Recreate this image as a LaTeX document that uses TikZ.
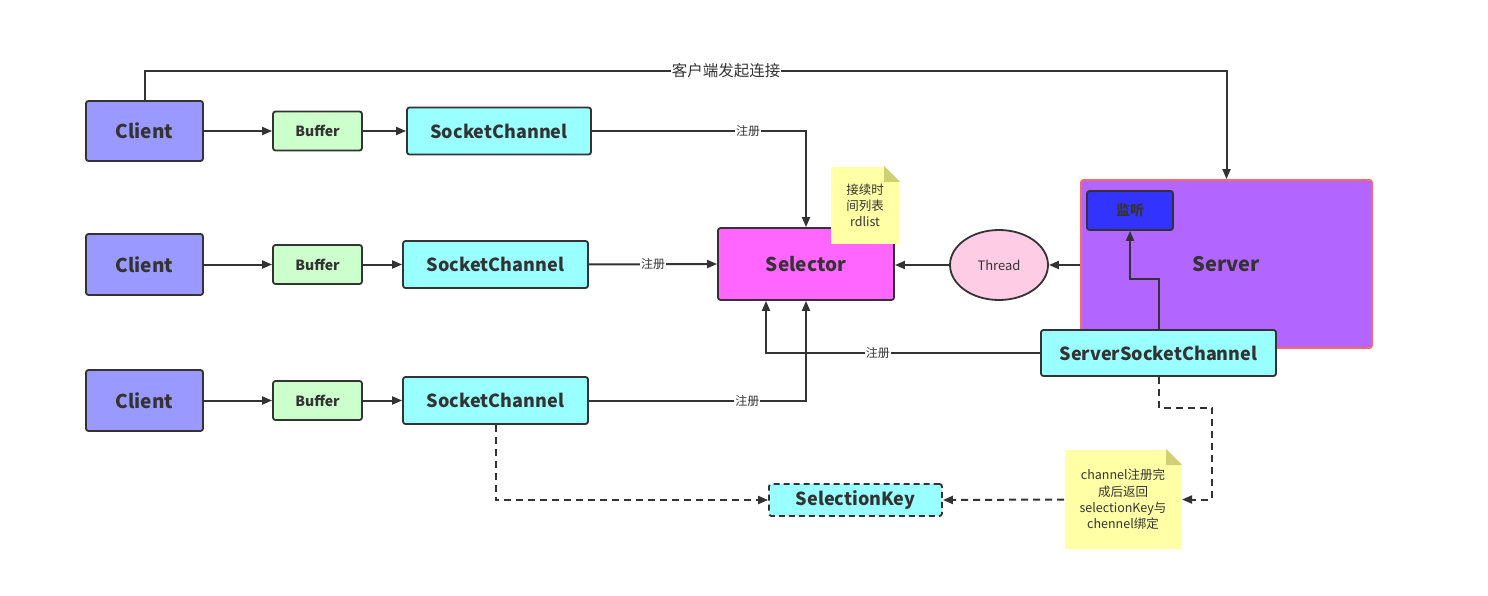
\documentclass[tikz,border=0pt]{standalone}
\usepackage{fontspec}
\setmainfont{Noto Sans CJK SC}
\usetikzlibrary{arrows.meta, shapes.geometric}

\definecolor{line}{HTML}{333333}
\definecolor{clientc}{HTML}{9999FF}
\definecolor{bufferc}{HTML}{CCFFCC}
\definecolor{chanc}{HTML}{99FFFF}
\definecolor{selc}{HTML}{FF66FF}
\definecolor{threadc}{HTML}{FFCCE6}
\definecolor{serverc}{HTML}{B266FF}
\definecolor{serverb}{HTML}{FF6666}
\definecolor{listenc}{HTML}{3333FF}
\definecolor{notec}{HTML}{FFFFA6}
\definecolor{foldc}{HTML}{CFCF73}

\newcommand{\fs}[2][1.2]{\fontsize{#2}{#1\dimexpr #2pt\relax}\selectfont}

\begin{document}
\begin{tikzpicture}[x=1pt, y=-1pt, line width=2pt, draw=line,
  >={Triangle[length=10pt, width=8pt]},
  box/.style={draw=line, line width=1.8pt, rounded corners=2.5pt, inner sep=0pt, text=line},
  lbl/.style={fill=white, inner sep=1pt, text=line, font=\fs{12}},
  note/.style={fill=notec, inner sep=0pt, text=line, align=center, font=\fs[1.3]{12.5}}]
\useasboundingbox (0,0) rectangle (1488,596);

% clients, buffers, channels
\node[box, fill=clientc, minimum width=117, minimum height=60, font=\bfseries\fs{19}] (c1) at (144.5,131) {Client};
\node[box, fill=clientc, minimum width=117, minimum height=61, font=\bfseries\fs{19}] (c2) at (144.5,264.5) {Client};
\node[box, fill=clientc, minimum width=117, minimum height=61, font=\bfseries\fs{19}] (c3) at (144.5,400.5) {Client};
\node[box, fill=bufferc, minimum width=89, minimum height=39, font=\bfseries\fs{14}] (b1) at (317.5,131) {Buffer};
\node[box, fill=bufferc, minimum width=89, minimum height=39, font=\bfseries\fs{14}] (b2) at (317.5,264.5) {Buffer};
\node[box, fill=bufferc, minimum width=89, minimum height=39, font=\bfseries\fs{14}] (b3) at (317.5,400.5) {Buffer};
\node[box, fill=chanc, minimum width=184, minimum height=47, font=\bfseries\fs{18}] (s1) at (499,131) {SocketChannel};
\node[box, fill=chanc, minimum width=185, minimum height=47, font=\bfseries\fs{18}] (s2) at (495.5,264.5) {SocketChannel};
\node[box, fill=chanc, minimum width=185, minimum height=47, font=\bfseries\fs{18}] (s3) at (495.5,400.5) {SocketChannel};

% selector, thread, server
\node[box, fill=selc, minimum width=176, minimum height=72, font=\bfseries\fs{19}] (sel) at (806,264) {Selector};
\node[ellipse, draw=line, line width=1.8pt, fill=threadc, minimum width=98, minimum height=70, inner sep=0pt, text=line, font=\fs{13}] (th) at (999,265) {Thread};
\node[box, draw=serverb, fill=serverc, minimum width=291, minimum height=168, font=\bfseries\fs{20}] (srv) at (1226.5,264) {Server};
\node[box, fill=listenc, minimum width=86, minimum height=39, font=\bfseries\fs{14}] (lis) at (1130,210.5) {监听};
\node[box, fill=chanc, minimum width=235, minimum height=46, font=\bfseries\fs{18}] (ssc) at (1158.5,353) {ServerSocketChannel};
\node[box, dashed, dash pattern=on 6pt off 4pt, fill=chanc, minimum width=173, minimum height=32, font=\bfseries\fs{18}] (sk) at (855.5,500) {SelectionKey};

% notes
\node[note, minimum width=68, minimum height=77] (n1) at (865,205.5) {接续时\\间列表\\rdlist};
\fill[white] (n1.north east) -- ++(-16,0) -- ++(16,16) -- cycle;
\fill[foldc] (n1.north east) ++(-16,0) -- ++(16,16) -- ++(-16,0) -- cycle;
\node[note, minimum width=116, minimum height=99] (n2) at (1123,499.5) {channel注册完\\成后返回\\selectionKey与\\chennel绑定};
\fill[white] (n2.north east) -- ++(-16,0) -- ++(16,16) -- cycle;
\fill[foldc] (n2.north east) ++(-16,0) -- ++(16,16) -- ++(-16,0) -- cycle;

% connectors
\draw[->] (c1) -- (b1);
\draw[->] (c2) -- (b2);
\draw[->] (c3) -- (b3);
\draw[->] (b1) -- (s1);
\draw[->] (b2) -- (s2);
\draw[->] (b3) -- (s3);
\draw[->] (c1.north) |- (726,71) node[lbl, font=\fs{15.5}]{客户端发起连接} -| (srv.north);
\draw[->] (s1.east) -| node[lbl, pos=.365]{注册} (sel.north);
\draw[->] (s2.east) -- node[lbl, pos=.5]{注册} (sel.west);
\draw[->] (s3.east) -| node[lbl, pos=.365]{注册} (sel.south);
\draw[->] (ssc.west) -| node[lbl, pos=.296]{注册} ([xshift=-40pt]sel.south);
\draw[->] (srv.west |- th.east) -- (th.east);
\draw[->] (th.west) -- (sel.east |- th.west);
\draw[->] (ssc.north) -- ++(0,-50) -| (lis.south);
\draw[->, dashed, dash pattern=on 7pt off 5pt] (ssc.south) -- ++(0,31) -| ([xshift=30pt]n2.east) -- (n2.east);
\draw[->, dashed, dash pattern=on 7pt off 5pt] (n2.west) -- (sk.east);
\draw[->, dashed, dash pattern=on 7pt off 5pt] (s3.south) |- (sk.west);
\end{tikzpicture}
\end{document}
